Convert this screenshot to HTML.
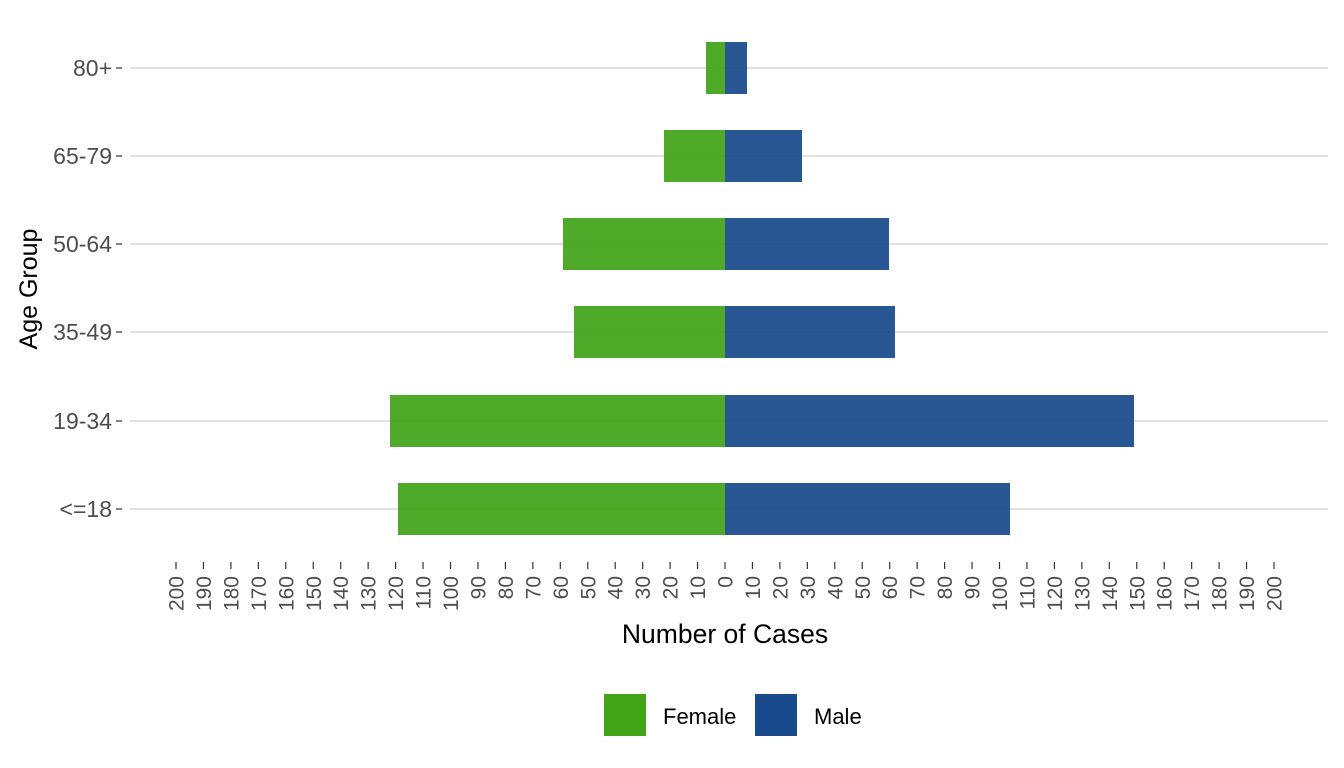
<!DOCTYPE html>
<html><head><meta charset="utf-8"><style>body{margin:0;background:#fff}svg{display:block}</style></head>
<body>
<svg width="1344" height="768" xmlns="http://www.w3.org/2000/svg" font-family="Liberation Sans, Arial, sans-serif">
<g stroke="#d0d0d0" stroke-width="1.2">
<line x1="130" x2="1328" y1="68" y2="68"/><line x1="130" x2="1328" y1="156" y2="156"/><line x1="130" x2="1328" y1="244" y2="244"/><line x1="130" x2="1328" y1="332" y2="332"/><line x1="130" x2="1328" y1="421" y2="421"/><line x1="130" x2="1328" y1="509" y2="509"/>
</g>
<g fill="#43a41a" fill-opacity="0.93">
<rect x="706" y="42" width="19" height="52"/><rect x="664" y="130" width="61" height="52"/><rect x="563" y="218" width="162" height="52"/><rect x="574" y="306" width="151" height="52"/><rect x="390" y="395" width="335" height="52"/><rect x="398" y="483" width="327" height="52"/>
</g>
<g fill="#184a8c" fill-opacity="0.93">
<rect x="725" y="42" width="22" height="52"/><rect x="725" y="130" width="77" height="52"/><rect x="725" y="218" width="164" height="52"/><rect x="725" y="306" width="170" height="52"/><rect x="725" y="395" width="409" height="52"/><rect x="725" y="483" width="285" height="52"/>
</g>
<g stroke="#333" stroke-width="1.2">
<line x1="116" x2="122" y1="68" y2="68"/><line x1="116" x2="122" y1="156" y2="156"/><line x1="116" x2="122" y1="244" y2="244"/><line x1="116" x2="122" y1="332" y2="332"/><line x1="116" x2="122" y1="421" y2="421"/><line x1="116" x2="122" y1="509" y2="509"/>
</g>
<g font-size="23" fill="#4d4d4d" text-anchor="end">
<text x="112" y="76">80+</text><text x="112" y="164">65-79</text><text x="112" y="252">50-64</text><text x="112" y="340">35-49</text><text x="112" y="429">19-34</text><text x="112" y="517">&lt;=18</text>
</g>
<text transform="translate(37,289) rotate(-90)" font-size="25" text-anchor="middle" fill="#000">Age Group</text>
<g stroke="#333" stroke-width="1.2">
<line x1="176" x2="176" y1="562" y2="569"/><line x1="203.45" x2="203.45" y1="562" y2="569"/><line x1="230.9" x2="230.9" y1="562" y2="569"/><line x1="258.35" x2="258.35" y1="562" y2="569"/><line x1="285.8" x2="285.8" y1="562" y2="569"/><line x1="313.25" x2="313.25" y1="562" y2="569"/><line x1="340.7" x2="340.7" y1="562" y2="569"/><line x1="368.15" x2="368.15" y1="562" y2="569"/><line x1="395.6" x2="395.6" y1="562" y2="569"/><line x1="423.05" x2="423.05" y1="562" y2="569"/><line x1="450.5" x2="450.5" y1="562" y2="569"/><line x1="477.95" x2="477.95" y1="562" y2="569"/><line x1="505.4" x2="505.4" y1="562" y2="569"/><line x1="532.85" x2="532.85" y1="562" y2="569"/><line x1="560.3" x2="560.3" y1="562" y2="569"/><line x1="587.75" x2="587.75" y1="562" y2="569"/><line x1="615.2" x2="615.2" y1="562" y2="569"/><line x1="642.65" x2="642.65" y1="562" y2="569"/><line x1="670.1" x2="670.1" y1="562" y2="569"/><line x1="697.55" x2="697.55" y1="562" y2="569"/><line x1="725" x2="725" y1="562" y2="569"/><line x1="752.45" x2="752.45" y1="562" y2="569"/><line x1="779.9" x2="779.9" y1="562" y2="569"/><line x1="807.35" x2="807.35" y1="562" y2="569"/><line x1="834.8" x2="834.8" y1="562" y2="569"/><line x1="862.25" x2="862.25" y1="562" y2="569"/><line x1="889.7" x2="889.7" y1="562" y2="569"/><line x1="917.15" x2="917.15" y1="562" y2="569"/><line x1="944.6" x2="944.6" y1="562" y2="569"/><line x1="972.05" x2="972.05" y1="562" y2="569"/><line x1="999.5" x2="999.5" y1="562" y2="569"/><line x1="1026.95" x2="1026.95" y1="562" y2="569"/><line x1="1054.4" x2="1054.4" y1="562" y2="569"/><line x1="1081.85" x2="1081.85" y1="562" y2="569"/><line x1="1109.3" x2="1109.3" y1="562" y2="569"/><line x1="1136.75" x2="1136.75" y1="562" y2="569"/><line x1="1164.2" x2="1164.2" y1="562" y2="569"/><line x1="1191.65" x2="1191.65" y1="562" y2="569"/><line x1="1219.1" x2="1219.1" y1="562" y2="569"/><line x1="1246.55" x2="1246.55" y1="562" y2="569"/><line x1="1274" x2="1274" y1="562" y2="569"/>
</g>
<g font-size="21" fill="#4d4d4d" text-anchor="end">
<text transform="translate(183.5,576) rotate(-90)">200</text><text transform="translate(210.95,576) rotate(-90)">190</text><text transform="translate(238.4,576) rotate(-90)">180</text><text transform="translate(265.85,576) rotate(-90)">170</text><text transform="translate(293.3,576) rotate(-90)">160</text><text transform="translate(320.75,576) rotate(-90)">150</text><text transform="translate(348.2,576) rotate(-90)">140</text><text transform="translate(375.65,576) rotate(-90)">130</text><text transform="translate(403.1,576) rotate(-90)">120</text><text transform="translate(430.55,576) rotate(-90)">110</text><text transform="translate(458,576) rotate(-90)">100</text><text transform="translate(485.45,576) rotate(-90)">90</text><text transform="translate(512.9,576) rotate(-90)">80</text><text transform="translate(540.35,576) rotate(-90)">70</text><text transform="translate(567.8,576) rotate(-90)">60</text><text transform="translate(595.25,576) rotate(-90)">50</text><text transform="translate(622.7,576) rotate(-90)">40</text><text transform="translate(650.15,576) rotate(-90)">30</text><text transform="translate(677.6,576) rotate(-90)">20</text><text transform="translate(705.05,576) rotate(-90)">10</text><text transform="translate(732.5,576) rotate(-90)">0</text><text transform="translate(759.95,576) rotate(-90)">10</text><text transform="translate(787.4,576) rotate(-90)">20</text><text transform="translate(814.85,576) rotate(-90)">30</text><text transform="translate(842.3,576) rotate(-90)">40</text><text transform="translate(869.75,576) rotate(-90)">50</text><text transform="translate(897.2,576) rotate(-90)">60</text><text transform="translate(924.65,576) rotate(-90)">70</text><text transform="translate(952.1,576) rotate(-90)">80</text><text transform="translate(979.55,576) rotate(-90)">90</text><text transform="translate(1007,576) rotate(-90)">100</text><text transform="translate(1034.45,576) rotate(-90)">110</text><text transform="translate(1061.9,576) rotate(-90)">120</text><text transform="translate(1089.35,576) rotate(-90)">130</text><text transform="translate(1116.8,576) rotate(-90)">140</text><text transform="translate(1144.25,576) rotate(-90)">150</text><text transform="translate(1171.7,576) rotate(-90)">160</text><text transform="translate(1199.15,576) rotate(-90)">170</text><text transform="translate(1226.6,576) rotate(-90)">180</text><text transform="translate(1254.05,576) rotate(-90)">190</text><text transform="translate(1281.5,576) rotate(-90)">200</text>
</g>
<text x="725" y="643" font-size="26.5" text-anchor="middle" fill="#000">Number of Cases</text>
<rect x="604" y="694" width="42" height="42" fill="#43a41a"/>
<text x="663" y="724" font-size="22" fill="#000">Female</text>
<rect x="755" y="694" width="42" height="42" fill="#184a8c"/>
<text x="814" y="724" font-size="22" fill="#000">Male</text>
</svg>
</body></html>
